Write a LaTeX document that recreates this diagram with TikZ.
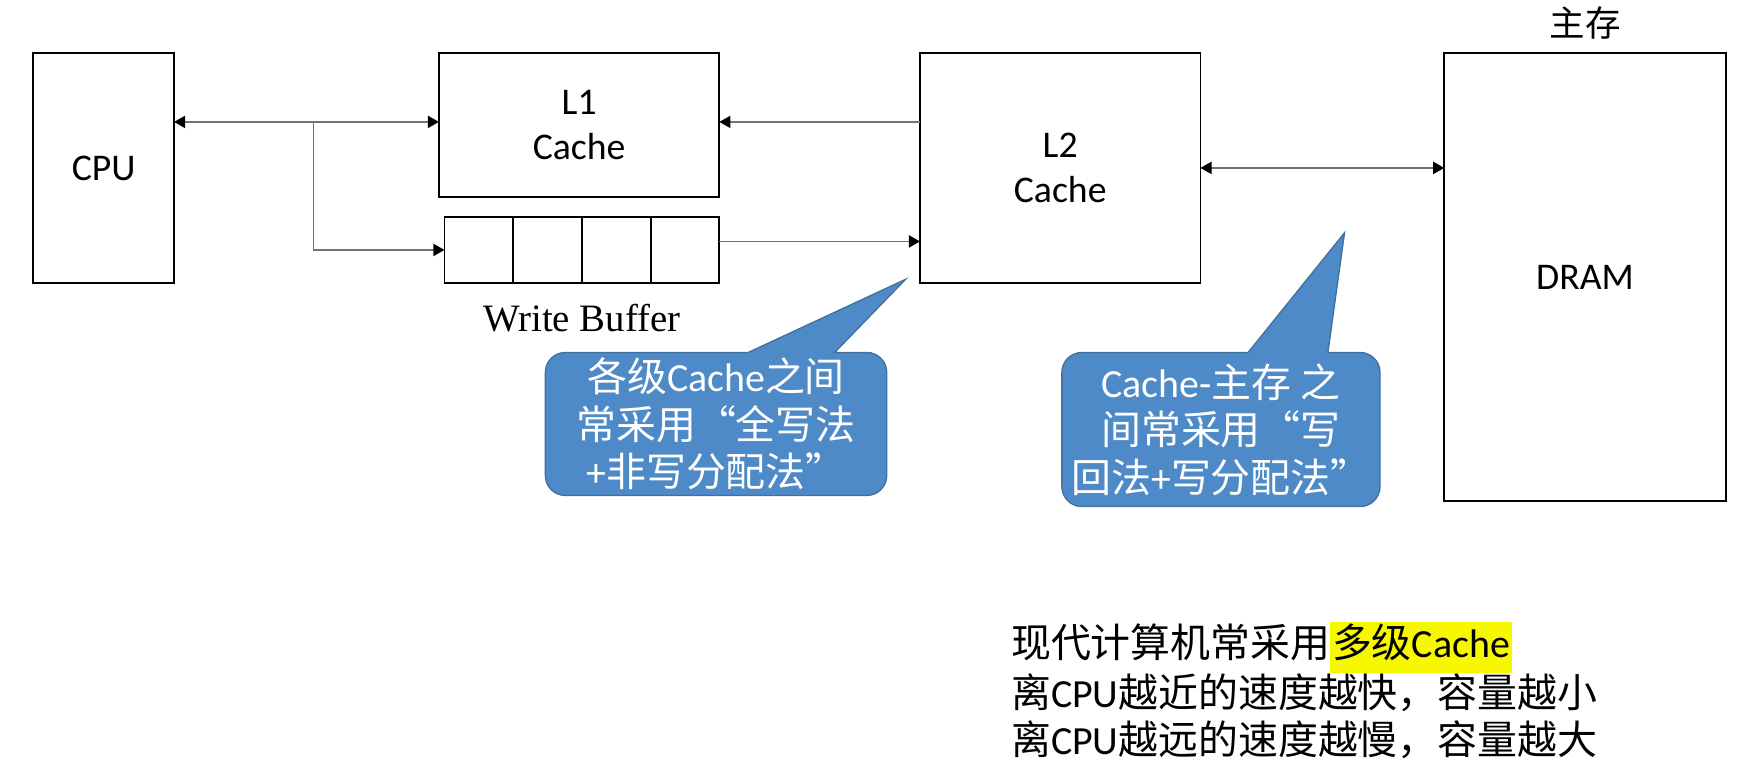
\documentclass[tikz,border=0pt]{standalone}
\usepackage{fontspec}
\setmainfont{Carlito}
\newfontfamily\cjk{Noto Sans CJK SC}
\newfontfamily\tnr{Liberation Serif}
\usetikzlibrary{positioning, calc, arrows.meta, backgrounds}
\definecolor{calloutblue}{HTML}{4E8AC8}
\definecolor{calloutedge}{HTML}{41719C}
\definecolor{marker}{HTML}{F7F700}
\setlength{\fboxsep}{1.5pt}

\begin{document}
\begin{tikzpicture}[
    x=1pt, y=-1pt,
    >={Triangle[length=10pt,width=11pt,color=black]},
    % Styles
    unit/.style={
        rectangle,
        draw,
        line width=1.6pt,
        inner sep=0pt,
        outer sep=0pt,
        align=center,
        font=\fontsize{34pt}{41pt}\selectfont
    },
    cell/.style={
        unit,
        minimum width=62pt,
        minimum height=59pt
    },
    link/.style={
        draw=black!55,
        line width=1.3pt
    },
    note/.style={
        inner sep=0pt,
        outer sep=0pt,
        text=white,
        align=center,
        font=\fontsize{36pt}{43pt}\selectfont
    },
    callout/.style={
        fill=calloutblue,
        draw=calloutedge,
        line width=1.2pt
    }
]
    \useasboundingbox (0,0) rectangle (1568,699);

    % Units
    \node[unit, minimum width=127pt, minimum height=207pt] (cpu) at (93.5,151.5) {CPU};
    \node[unit, minimum width=253pt, minimum height=130pt] (l1) at (522.5,113) {L1\\Cache};
    \node[unit, minimum width=253pt, minimum height=207pt] (l2) at (956.5,151.5) {L2\\Cache};
    \node[unit, minimum width=254pt, minimum height=404pt] (dram) at (1430,250) {DRAM};
    \node[above=12pt of dram, inner sep=0pt, font=\cjk\fontsize{32pt}{32pt}\selectfont] (mem) {主存};

    % Write buffer
    \foreach \i in {1,...,4}
        \node[cell] (cell\i) at (370+62*\i,225.5) {};
    \node[below=19pt of $(cell2.south)!0.5!(cell3.south)$, inner sep=0pt, font=\tnr\fontsize{35pt}{35pt}\selectfont] (wblabel) {Write Buffer};

    % Paths
    \coordinate (bus) at (283,110);
    \coordinate (wbout) at ($(cell4.north east)!0.37!(cell4.south east)$);
    \draw[link, <->] (cpu.east |- bus) -- (l1.west |- bus);
    \draw[link, ->] (bus) |- (cell1.west);
    \draw[link, ->] (l2.west |- bus) -- (l1.east |- bus);
    \draw[link, ->] (wbout) -- (l2.west |- wbout);
    \draw[link, <->] (l2.east) -- (dram.west |- l2.east);

    % Callouts
    \node[note, minimum width=308pt, minimum height=129pt] (noteA) at (646,382.5)
        {{\cjk 各级}Cache{\cjk 之间}\\{\cjk 常采用“全写法}\\+{\cjk 非写分配法”}};
    \node[note, minimum width=287pt, minimum height=139pt] (noteB) at (1101.5,387.5)
        {Cache-{\cjk 主存} {\cjk 之}\\{\cjk 间常采用“写}\\{\cjk 回法}+{\cjk 写分配法”}};
    \coordinate (tipA) at (817,252);
    \coordinate (tipB) at (1213,210);
    \begin{scope}[on background layer]
        \draw[callout] (noteA.west) [rounded corners=18pt] -- (noteA.north west)
            [sharp corners] -- ($(noteA.north west)+(183,0)$) -- (tipA)
            -- ($(noteA.north west)+(261,0)$) [rounded corners=18pt] -- (noteA.north east)
            -- (noteA.south east) -- (noteA.south west) -- cycle;
        \draw[callout] (noteB.west) [rounded corners=18pt] -- (noteB.north west)
            [sharp corners] -- ($(noteB.north west)+(168,0)$) -- (tipB)
            -- ($(noteB.north west)+(240,0)$) [rounded corners=18pt] -- (noteB.north east)
            -- (noteB.south east) -- (noteB.south west) -- cycle;
    \end{scope}

    % Summary
    \node[anchor=north west, inner sep=0pt, align=left, font=\fontsize{36pt}{42pt}\selectfont] (summary) at (912,561)
        {{\cjk 现代计算机常采用}\colorbox{marker}{\strut{\cjk 多级}Cache}\\
         {\cjk 离}CPU{\cjk 越近的速度越快，容量越小}\\
         {\cjk 离}CPU{\cjk 越远的速度越慢，容量越大}};
\end{tikzpicture}
\end{document}
